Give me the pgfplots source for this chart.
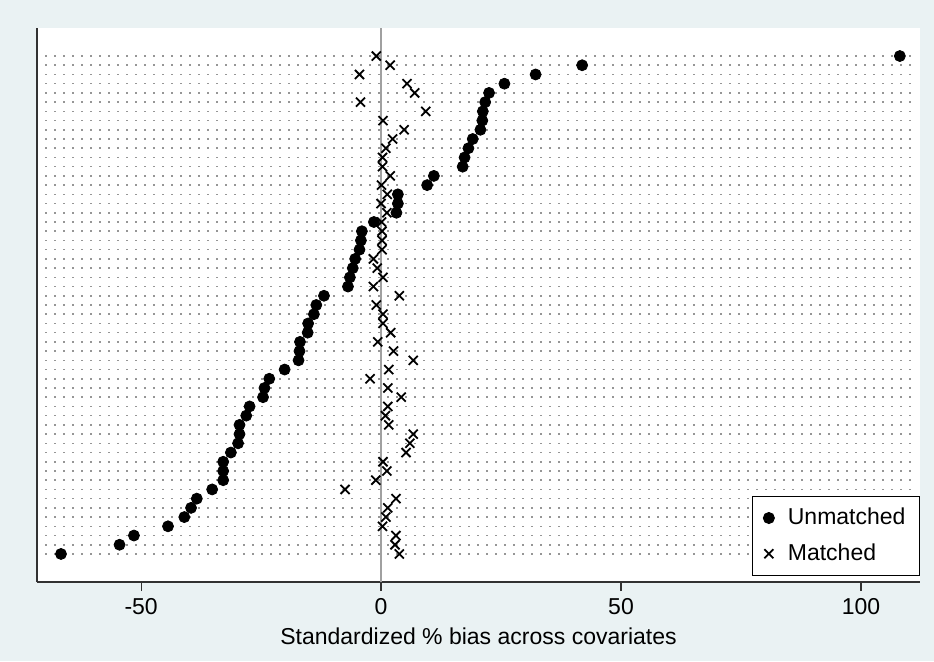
\documentclass[border=0pt]{standalone}
\usepackage{pgfplots}
\usepackage{pgfplotstable}
\pgfplotsset{compat=1.18}
\usepackage{fontspec}
\setmainfont{Liberation Sans}
\definecolor{bgc}{RGB}{234,242,243}
\definecolor{zline}{RGB}{160,160,160}
\definecolor{dotc}{RGB}{150,150,150}
\definecolor{axc}{RGB}{50,50,50}

\pgfplotstableread{
y u m
55 108.1 -1.0
54 41.9 1.9
53 32.2 -4.5
52 25.7 5.4
51 22.5 7.0
50 21.7 -4.3
49 21.2 9.3
48 21.1 0.4
47 20.7 4.8
46 19.1 2.4
45 18.2 1.0
44 17.4 0.3
43 17.0 0.3
42 11.0 1.9
41 9.6 0.1
40 3.5 1.3
39 3.5 0.0
38 3.2 1.2
37 -1.5 0.1
36 -4.0 0.2
35 -4.2 0.2
34 -4.5 0.2
33 -5.4 -1.6
32 -5.9 -0.8
31 -6.5 0.4
30 -6.9 -1.6
29 -11.9 3.8
28 -13.5 -1.0
27 -14.0 0.4
26 -15.2 0.4
25 -15.3 2.0
24 -16.9 -0.7
23 -17.0 2.6
22 -17.2 6.7
21 -20.1 1.6
20 -23.3 -2.3
19 -24.3 1.4
18 -24.6 4.2
17 -27.4 1.4
16 -28.1 0.9
15 -29.5 1.6
14 -29.5 6.7
13 -29.8 6.0
12 -31.3 5.2
11 -32.9 0.4
10 -32.9 1.2
9 -32.9 -1.1
8 -35.2 -7.5
7 -38.4 3.1
6 -39.6 1.4
5 -41.0 1.0
4 -44.4 0.3
3 -51.5 3.1
2 -54.5 2.9
1 -66.7 3.8
}\covtab

\begin{document}
\begin{tikzpicture}[x=1pt,y=1pt]
\fill[bgc] (0,0) rectangle (467,330.5);
\begin{axis}[
  at={(18.5pt,39.5pt)}, anchor=south west,
  scale only axis, width=441.5pt, height=277pt,
  xmin=-71.7, xmax=112.3, ymin=-2.04, ymax=58.04,
  axis x line*=bottom, axis y line*=left,
  axis line style={-, draw=axc, line width=0.6pt},
  axis background/.style={fill=white},
  ytick=\empty,
  xtick={-50,0,50,100}, xticklabels={-50,0,50,100},
  tick align=outside, major tick length=4.5pt,
  x tick style={axc, line width=0.6pt},
  tick label style={font=\fontsize{11.5}{13}\selectfont},
  xlabel={Standardized \% bias across covariates},
  xlabel style={font=\fontsize{11.5}{13}\selectfont},
  legend style={at={(1.0,0.0108)}, anchor=south east, draw=black, line width=0.5pt,
    fill=white, font=\fontsize{11.5}{13}\selectfont, inner xsep=5pt, inner ysep=4pt,
    row sep=4pt, /tikz/every odd column/.append style={column sep=4.5pt}},
  legend cell align=left,
  legend image code/.code={\path[draw=none,fill=none] (0pt,-3pt) rectangle (6pt,3pt); \draw[#1] plot coordinates {(3pt,0pt)};},
]
\pgfplotsinvokeforeach{1,...,55}{
  \addplot[forget plot, dotc, line width=0.75pt, dash pattern=on 0.75pt off 3.75pt] coordinates {(-70,#1) (111.2,#1)};
}
\addplot[forget plot, zline, line width=0.8pt] coordinates {(0,-2.04) (0,58.04)};
\addplot[only marks, mark=*, mark size=2.75pt, black] table[x=u,y=y]{\covtab};
\addplot[only marks, mark=x, mark size=3.2pt, black, line width=0.9pt] table[x=m,y=y]{\covtab};
\legend{Unmatched\hspace{7pt}, Matched}
\end{axis}
\end{tikzpicture}
\end{document}
